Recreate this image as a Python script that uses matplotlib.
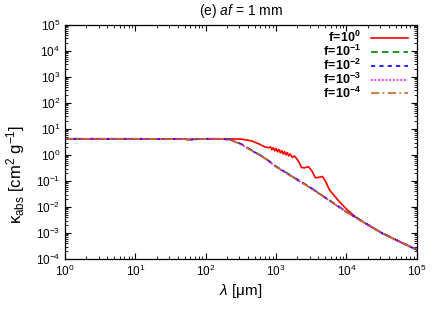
import numpy as np
import matplotlib
matplotlib.use("Agg")
import matplotlib.pyplot as plt

plt.rcParams["font.family"] = ["Liberation Sans", "DejaVu Sans"]
plt.rcParams["mathtext.fontset"] = "custom"
plt.rcParams["mathtext.rm"] = "Liberation Sans"
plt.rcParams["mathtext.it"] = "Liberation Sans:italic"
plt.rcParams["mathtext.bf"] = "Liberation Sans:bold"

# log10 values
# f = 10^0 (with resonance wiggles)
logwav_f0 = [0.0, 1.0, 1.7, 1.75, 2.0, 2.3, 2.5, 2.65, 2.75, 2.84, 2.90,
             2.92, 2.94, 2.96, 2.98, 3.00, 3.02, 3.04, 3.06, 3.08, 3.10,
             3.12, 3.14, 3.16, 3.18, 3.20, 3.23, 3.26, 3.30, 3.33, 3.36,
             3.40, 3.46, 3.51, 3.56, 3.61, 3.66, 3.70, 3.76, 3.9, 4.0,
             4.1, 4.2, 4.3, 4.5, 4.75, 5.0]
logkap_f0 = [0.62, 0.62, 0.61, 0.59, 0.62, 0.62, 0.61, 0.54, 0.43, 0.31, 0.28,
             0.31, 0.20, 0.28, 0.16, 0.25, 0.12, 0.21, 0.08, 0.17, 0.04,
             0.13, 0.00, 0.09, -0.04, 0.04, -0.10, -0.04, -0.17, -0.30, -0.48,
             -0.50, -0.45, -0.62, -0.88, -0.86, -0.83, -1.00, -1.35, -1.80, -2.08,
             -2.32, -2.52, -2.68, -3.00, -3.33, -3.65]

# f = 10^-1 ... 10^-4 (nearly identical)
logwav = [0.0, 1.0, 1.7, 1.75, 2.0, 2.2, 2.35, 2.5, 2.7, 2.84, 3.0, 3.5, 4.0, 4.5, 5.0]
logkap_f1 = [0.62, 0.62, 0.61, 0.59, 0.62, 0.62, 0.59, 0.43, 0.11, -0.11, -0.44, -1.27, -2.18, -2.99, -3.64]
logkap_f2 = [0.62, 0.62, 0.61, 0.59, 0.62, 0.62, 0.58, 0.42, 0.10, -0.12, -0.45, -1.28, -2.19, -3.00, -3.65]
logkap_f3 = [0.62, 0.62, 0.61, 0.59, 0.62, 0.62, 0.58, 0.41, 0.09, -0.13, -0.46, -1.29, -2.20, -3.00, -3.65]
logkap_f4 = [0.62, 0.62, 0.61, 0.59, 0.62, 0.62, 0.58, 0.41, 0.09, -0.13, -0.46, -1.29, -2.20, -3.00, -3.65]

labels = [r"$\mathbf{f\!=\!10^{0}}$", r"$\mathbf{f\!=\!10^{-1}}$",
          r"$\mathbf{f\!=\!10^{-2}}$", r"$\mathbf{f\!=\!10^{-3}}$",
          r"$\mathbf{f\!=\!10^{-4}}$"]

fig = plt.figure(figsize=(4.36, 3.27), dpi=100)
ax = fig.add_axes([0.149, 0.208, 0.807, 0.716])

lw = 1.2
ax.plot(10 ** np.array(logwav_f0), 10 ** np.array(logkap_f0), color="#ff0000", lw=lw, label=labels[0])
ax.plot(10 ** np.array(logwav), 10 ** np.array(logkap_f1), color="#008000", lw=lw,
        ls=(0, (4, 2.5)), label=labels[1])
ax.plot(10 ** np.array(logwav), 10 ** np.array(logkap_f2), color="#0000ff", lw=lw,
        ls=(0, (2.5, 2.5)), label=labels[2])
ax.plot(10 ** np.array(logwav), 10 ** np.array(logkap_f3), color="#ff00ff", lw=lw,
        ls=(0, (1, 1.2)), label=labels[3])
ax.plot(10 ** np.array(logwav), 10 ** np.array(logkap_f4), color="#cc6633", lw=lw,
        ls=(0, (5, 2, 1, 2)), label=labels[4])

ax.set_xscale("log")
ax.set_yscale("log")
ax.set_xlim(1, 1e5)
ax.set_ylim(1e-4, 1e5)
ax.set_yticks([10.0 ** k for k in range(-4, 6)])
ax.set_xticks([10.0 ** k for k in range(0, 6)])
ax.tick_params(which="both", direction="in", top=True, right=True, labelsize=8.5)
ax.tick_params(which="major", length=4, width=0.8)
ax.tick_params(which="minor", length=2, width=0.6)
for s in ax.spines.values():
    s.set_linewidth(0.9)

ax.set_xlabel(r"$\lambda$ [μm]", fontsize=11, labelpad=2)
ax.set_ylabel(r"κ$_{\rm abs}$ [cm$^2$ g$^{-1}$]", fontsize=12)
ax.yaxis.set_label_coords(-0.108, 0.36)
ax.set_title(r"(e) $af$ = 1 mm", fontsize=10, pad=7)

ax.legend(loc="upper right", frameon=False, markerfirst=False, fontsize=9,
          handlelength=3.0, handletextpad=0.8, labelspacing=-0.1,
          borderaxespad=0.0, bbox_to_anchor=(0.99, 1.0))

fig.savefig("out.png", dpi=100)
